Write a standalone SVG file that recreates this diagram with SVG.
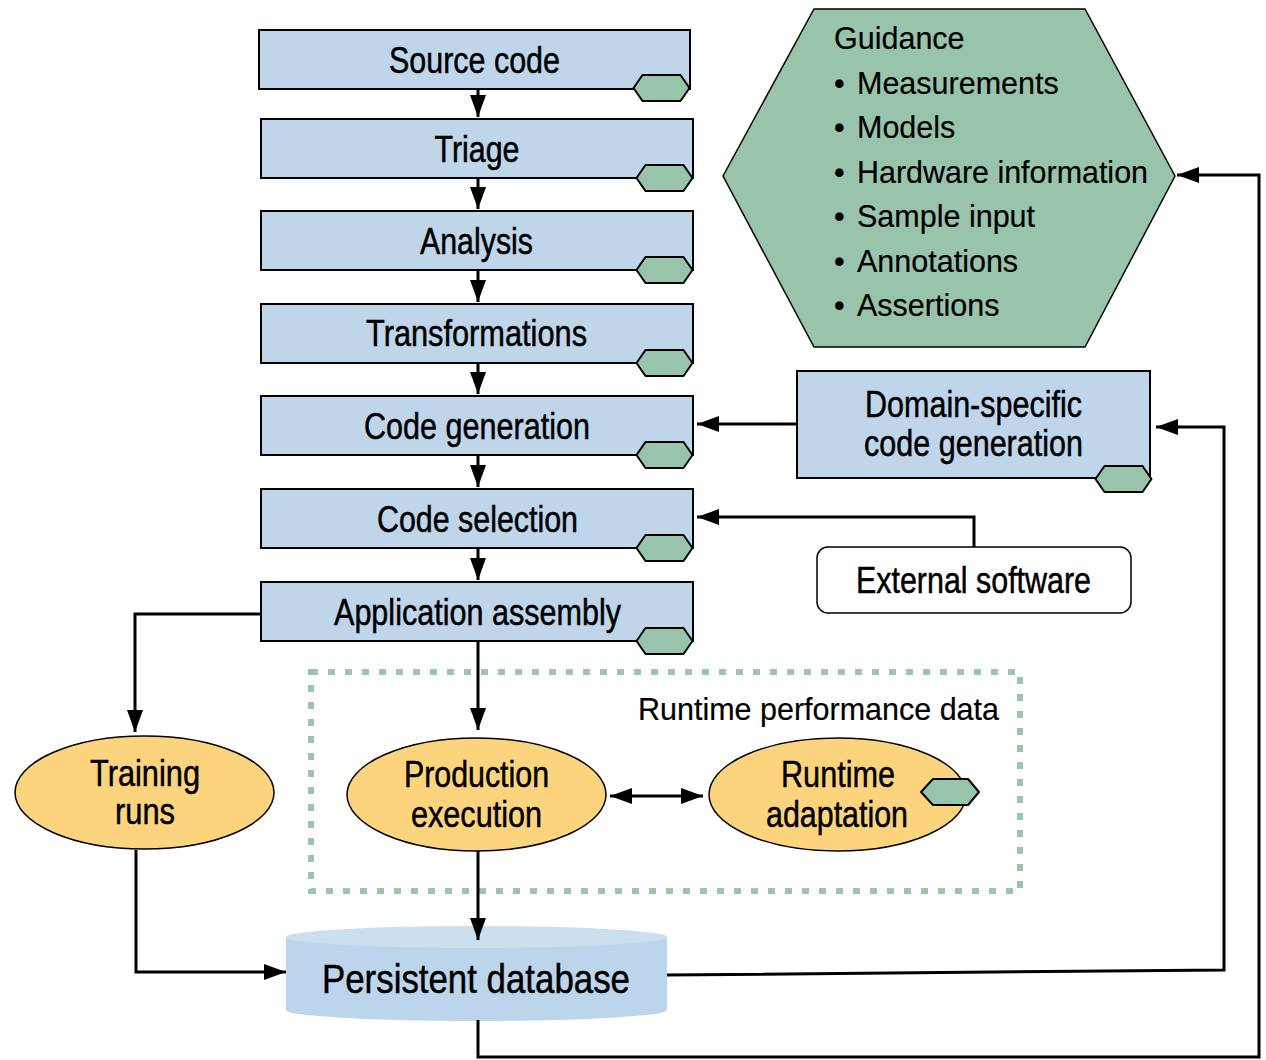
<svg xmlns="http://www.w3.org/2000/svg" width="1266" height="1060" viewBox="0 0 1266 1060">
<style>
.box{fill:#BFD5EA;stroke:#000;stroke-width:2}
.hx{fill:#99C4AC;stroke:#000;stroke-width:2;stroke-linejoin:round}
.ell{fill:#FDD47E;stroke:#000;stroke-width:1.5}
.lbl{font-family:"Liberation Sans",Arial,sans-serif;font-size:36px;fill:#000;stroke:#000;stroke-width:0.5;text-anchor:middle}
.gd{font-family:"Liberation Sans",Arial,sans-serif;font-size:30.5px;fill:#000;stroke:#000;stroke-width:0.2}
.cn{fill:none;stroke:#000;stroke-width:3}
</style>
<defs>
<marker id="ah" markerWidth="22" markerHeight="16" refX="22" refY="8" orient="auto-start-reverse" markerUnits="userSpaceOnUse">
<path d="M0,0L22,8L0,16z" fill="#000"/>
</marker>
<polygon id="smallhex" points="-28,0 -19,-13 19,-13 28,0 19,13 -19,13"/>
</defs>
<rect width="1266" height="1060" fill="#fff"/>

<g id="runtime-perf-group">
<rect x="311" y="672" width="709" height="219" fill="none" stroke="#9DC5AD" stroke-width="6" stroke-dasharray="7 10"/>
<text class="gd" x="638" y="720" textLength="361" lengthAdjust="spacingAndGlyphs">Runtime performance data</text>
</g>

<g id="guidance">
<polygon points="723,176 814,9 1085,9 1175,176 1085,347 814,347" fill="#99C4AC" stroke="#000" stroke-width="1.5"/>
<text class="gd" x="834" y="49">Guidance</text>
<text class="gd" y="94"><tspan x="834">•</tspan><tspan x="857">Measurements</tspan></text>
<text class="gd" y="138"><tspan x="834">•</tspan><tspan x="857">Models</tspan></text>
<text class="gd" y="183"><tspan x="834">•</tspan><tspan x="857" textLength="291" lengthAdjust="spacingAndGlyphs">Hardware information</tspan></text>
<text class="gd" y="227"><tspan x="834">•</tspan><tspan x="857">Sample input</tspan></text>
<text class="gd" y="272"><tspan x="834">•</tspan><tspan x="857">Annotations</tspan></text>
<text class="gd" y="316"><tspan x="834">•</tspan><tspan x="857">Assertions</tspan></text>
</g>

<g id="source-code">
<rect class="box" x="259" y="30" width="431" height="59"/>
<use href="#smallhex" class="hx" x="661.5" y="88"/>
<text class="lbl" x="474.5" y="73" textLength="171" lengthAdjust="spacingAndGlyphs">Source code</text>
</g>
<g id="triage">
<rect class="box" x="261" y="119" width="432" height="59"/>
<use href="#smallhex" class="hx" x="664.5" y="178"/>
<text class="lbl" x="477" y="162" textLength="85" lengthAdjust="spacingAndGlyphs">Triage</text>
</g>
<g id="analysis">
<rect class="box" x="261" y="211" width="432" height="59"/>
<use href="#smallhex" class="hx" x="664.5" y="270"/>
<text class="lbl" x="476.5" y="254" textLength="113" lengthAdjust="spacingAndGlyphs">Analysis</text>
</g>
<g id="transformations">
<rect class="box" x="261" y="304" width="432" height="59"/>
<use href="#smallhex" class="hx" x="664.5" y="363"/>
<text class="lbl" x="476.5" y="346" textLength="221" lengthAdjust="spacingAndGlyphs">Transformations</text>
</g>
<g id="code-generation">
<rect class="box" x="261" y="396" width="432" height="59"/>
<use href="#smallhex" class="hx" x="664.5" y="455"/>
<text class="lbl" x="477" y="439" textLength="226" lengthAdjust="spacingAndGlyphs">Code generation</text>
</g>
<g id="code-selection">
<rect class="box" x="261" y="489" width="432" height="59"/>
<use href="#smallhex" class="hx" x="664.5" y="548"/>
<text class="lbl" x="477.5" y="532" textLength="201" lengthAdjust="spacingAndGlyphs">Code selection</text>
</g>
<g id="application-assembly">
<rect class="box" x="261" y="582" width="432" height="59"/>
<use href="#smallhex" class="hx" x="664.5" y="641"/>
<text class="lbl" x="477.5" y="625" textLength="287" lengthAdjust="spacingAndGlyphs">Application assembly</text>
</g>

<g id="domain-specific">
<rect class="box" x="797" y="371" width="353" height="107"/>
<use href="#smallhex" class="hx" x="1123.5" y="479"/>
<text class="lbl" x="973.5" y="417" textLength="217" lengthAdjust="spacingAndGlyphs">Domain-specific</text>
<text class="lbl" x="973.5" y="456" textLength="219" lengthAdjust="spacingAndGlyphs">code generation</text>
</g>

<g id="external-software">
<rect x="817" y="547" width="314" height="66" rx="11" fill="#fff" stroke="#000" stroke-width="1.5"/>
<text class="lbl" x="973.5" y="593" textLength="235" lengthAdjust="spacingAndGlyphs">External software</text>
</g>

<g id="training-runs">
<ellipse class="ell" cx="144.5" cy="792.5" rx="129.5" ry="56.5"/>
<text class="lbl" x="145" y="786" textLength="110" lengthAdjust="spacingAndGlyphs">Training</text>
<text class="lbl" x="145" y="824" textLength="60" lengthAdjust="spacingAndGlyphs">runs</text>
</g>

<g id="production-execution">
<ellipse class="ell" cx="476.5" cy="794.5" rx="129.5" ry="56.5"/>
<text class="lbl" x="476.5" y="787" textLength="145" lengthAdjust="spacingAndGlyphs">Production</text>
<text class="lbl" x="476.5" y="827" textLength="131" lengthAdjust="spacingAndGlyphs">execution</text>
</g>

<g id="runtime-adaptation">
<ellipse class="ell" cx="837.5" cy="794.5" rx="128.5" ry="56.5"/>
<polygon class="hx" points="921,792 933,779 968,779 979,792 968,805 933,805"/>
<text class="lbl" x="838" y="787" textLength="114" lengthAdjust="spacingAndGlyphs">Runtime</text>
<text class="lbl" x="837" y="827" textLength="142" lengthAdjust="spacingAndGlyphs">adaptation</text>
</g>

<g id="persistent-database">
<path d="M286,937 L286,1010 A190.5,11 0 0 0 667,1010 L667,937 Z" fill="#BDD5EA"/>
<ellipse cx="476.5" cy="937" rx="190.5" ry="11" fill="#CCDFEE"/>
<text class="lbl" x="476" y="993" style="font-size:41px" textLength="308" lengthAdjust="spacingAndGlyphs">Persistent database</text>
</g>

<g id="connectors">
<line class="cn" x1="478" y1="89" x2="478" y2="117" marker-end="url(#ah)"/>
<line class="cn" x1="478" y1="178" x2="478" y2="209" marker-end="url(#ah)"/>
<line class="cn" x1="478" y1="270" x2="478" y2="302" marker-end="url(#ah)"/>
<line class="cn" x1="478" y1="363" x2="478" y2="394" marker-end="url(#ah)"/>
<line class="cn" x1="478" y1="455" x2="478" y2="487" marker-end="url(#ah)"/>
<line class="cn" x1="478" y1="548" x2="478" y2="580" marker-end="url(#ah)"/>
<line class="cn" x1="478" y1="641" x2="478" y2="730" marker-end="url(#ah)"/>
<polyline class="cn" points="261,614 135,614 135,732" marker-end="url(#ah)"/>
<polyline class="cn" points="136,850 136,972 286,972" marker-end="url(#ah)"/>
<line class="cn" x1="478" y1="851" x2="478" y2="940" marker-end="url(#ah)"/>
<line class="cn" x1="797" y1="424" x2="697" y2="424" marker-end="url(#ah)"/>
<polyline class="cn" points="974,547 974,517 697,517" marker-end="url(#ah)"/>
<line class="cn" x1="610" y1="796" x2="703" y2="796" marker-start="url(#ah)" marker-end="url(#ah)"/>
<polyline class="cn" points="667,975 1224,970 1224,427 1156,427" marker-end="url(#ah)"/>
<polyline class="cn" points="478,1020 478,1057 1259,1057 1259,175 1177,175" marker-end="url(#ah)"/>
</g>
</svg>
